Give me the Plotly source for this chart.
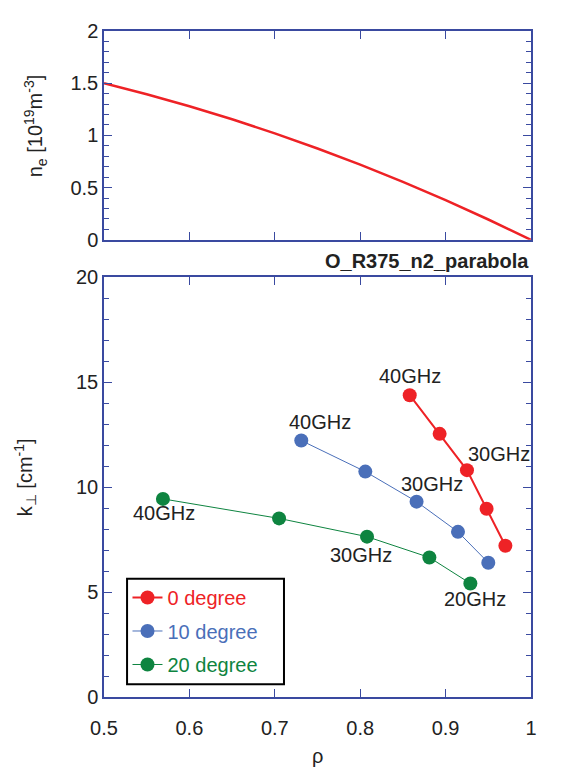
import plotly.graph_objects as go

# ---- data ----
rho_ne = [0.5, 0.55, 0.6, 0.65, 0.7, 0.75, 0.8, 0.85, 0.9, 0.95, 1.0]
ne_vals = [1.5, 1.395, 1.28, 1.155, 1.02, 0.875, 0.72, 0.555, 0.38, 0.195, 0.0]

rho_0deg = [0.858, 0.893, 0.925, 0.948, 0.970]
k_0deg = [14.38, 12.54, 10.81, 8.97, 7.21]
rho_10deg = [0.731, 0.806, 0.866, 0.9145, 0.950]
k_10deg = [12.22, 10.74, 9.31, 7.87, 6.40]
rho_20deg = [0.569, 0.705, 0.808, 0.881, 0.929]
k_20deg = [9.44, 8.51, 7.64, 6.65, 5.41]

series_names = ["0 degree", "10 degree", "20 degree"]
freq_labels = ["40GHz", "30GHz", "20GHz"]
# label anchor positions (rho, k) for each series: 40, 30, 20 GHz
lab_0deg = [(0.858, 15.3), (0.9625, 11.6), (1.011, 8.1)]
lab_10deg = [(0.7535, 13.12), (0.884, 10.16), (None, None)]
lab_20deg = [(0.570, 8.78), (0.8004, 6.78), (0.934, 4.65)]

RED = "#ee2226"
BLUE = "#4a6fb9"
GREEN = "#0e8440"
AX = "#3a4aa0"
FONT = "Liberation Sans, Arial, sans-serif"
FS = 20

fig = go.Figure()

fig.add_trace(go.Scatter(x=rho_ne, y=ne_vals, mode="lines", line=dict(color=RED, width=2.5),
                         xaxis="x", yaxis="y", showlegend=False))

specs = [
    (rho_0deg, k_0deg, RED, 2, series_names[0], "legend"),
    (rho_10deg, k_10deg, BLUE, 1, series_names[1], "legend2"),
    (rho_20deg, k_20deg, GREEN, 1, series_names[2], "legend3"),
]
for xs, ys, col, lw, nm, lg in specs:
    fig.add_trace(go.Scatter(
        x=xs, y=ys, mode="lines+markers",
        line=dict(color=col, width=lw),
        marker=dict(color=col, size=14),
        name=f"<span style='color:{col}'>{nm}</span>",
        xaxis="x2", yaxis="y2", legend=lg))

annots = []
for labs in (lab_0deg, lab_10deg, lab_20deg):
    for (lx, ly), txt in zip(labs, freq_labels):
        if lx is None:
            continue
        annots.append(dict(x=lx, y=ly, xref="x2", yref="y2", text=txt, showarrow=False,
                           xanchor="center", yanchor="middle",
                           font=dict(size=FS, color="#222222", family=FONT)))

annots += [
    dict(x=1.0, y=0.6302, xref="paper", yref="paper", yshift=3, text="<b>O_R375_n2_parabola</b>",
         showarrow=False, xanchor="right", yanchor="bottom",
         font=dict(size=FS, color="#222222", family=FONT)),
    dict(x=-0.16, y=0.858, xref="paper", yref="paper",
         text="n<sub>e</sub> [10<sup>19</sup>m<sup>-3</sup>]", textangle=-90, showarrow=False,
         xanchor="center", yanchor="middle", font=dict(size=FS, color="#222222", family=FONT)),
    dict(x=-0.185, y=0.33, xref="paper", yref="paper",
         text="k<sub>⊥</sub> [cm<sup>-1</sup>]", textangle=-90, showarrow=False,
         xanchor="center", yanchor="middle", font=dict(size=FS, color="#222222", family=FONT)),
    dict(x=0.5, y=-0.088, xref="paper", yref="paper", text="ρ", showarrow=False,
         xanchor="center", yanchor="middle", font=dict(size=FS, color="#222222", family=FONT)),
]

axis_common = dict(showline=True, linecolor=AX, linewidth=1.5, mirror="ticks", ticks="inside",
                   tickcolor=AX, tickwidth=1.2, ticklen=8, showgrid=False, zeroline=False,
                   tickfont=dict(size=FS, color="#222222", family=FONT))

fig.update_layout(
    width=582, height=768,
    margin=dict(l=96, r=59, t=13, b=79),
    paper_bgcolor="white", plot_bgcolor="white",
    font=dict(family=FONT, size=FS, color="#222222"),
    xaxis=dict(domain=[0, 1], range=[0.5, 1], dtick=0.1, anchor="y", showticklabels=False, **axis_common),
    yaxis=dict(domain=[0.6864, 1], range=[0, 2], dtick=0.5, anchor="x",
               minor=dict(dtick=0.1, ticks="inside", ticklen=5, tickcolor=AX), **axis_common),
    xaxis2=dict(domain=[0, 1], range=[0.5, 1], dtick=0.1, anchor="y2", ticklabelstandoff=12, **axis_common),
    yaxis2=dict(domain=[0, 0.6302], range=[0, 20], dtick=5, anchor="x2",
                minor=dict(dtick=1, ticks="inside", ticklen=5, tickcolor=AX), **axis_common),
    annotations=annots,
    shapes=[dict(type="rect", xref="paper", yref="paper", x0=0.054, x1=0.4215, y0=0.0192, y1=0.1775,
                 line=dict(color="black", width=2), fillcolor="white", layer="above")],
)
leg_common = dict(xanchor="left", yanchor="middle", bgcolor="rgba(0,0,0,0)", borderwidth=0,
                  font=dict(size=FS, family=FONT), x=0.055)
fig.update_layout(
    legend=dict(y=0.1494, **leg_common),
    legend2=dict(y=0.0991, **leg_common),
    legend3=dict(y=0.0488, **leg_common),
)

fig.write_html("out.html")
